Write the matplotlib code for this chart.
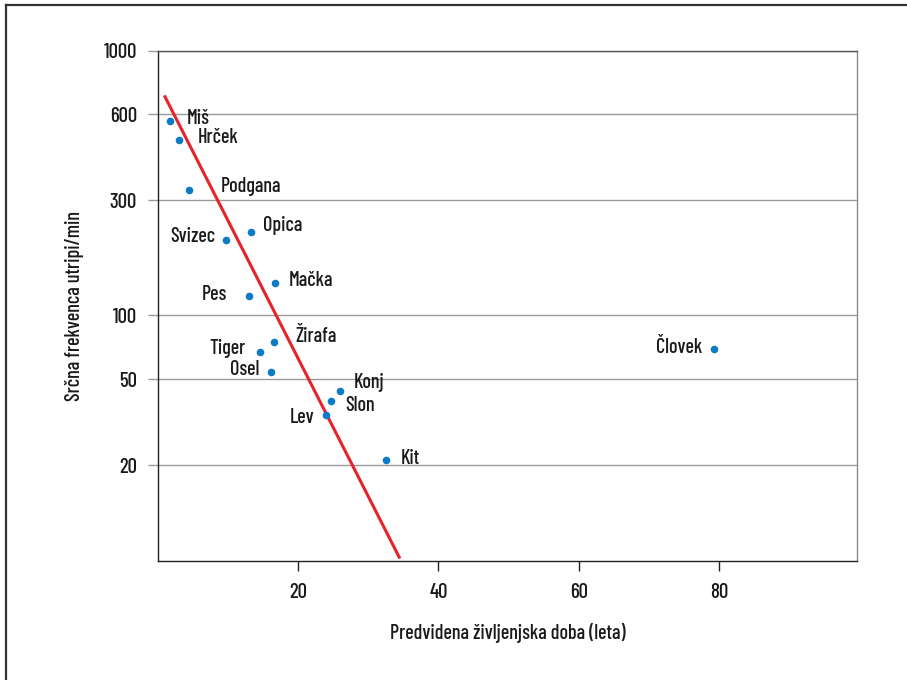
import numpy as np
import matplotlib
matplotlib.use("Agg")
import matplotlib.pyplot as plt
from matplotlib.lines import Line2D
from matplotlib.ticker import FixedLocator, FuncFormatter, NullLocator

plt.rcParams['font.family'] = ['Barlow Condensed', 'DejaVu Sans']
plt.rcParams['font.weight'] = 'medium'
plt.rcParams['axes.labelweight'] = 'medium'

# podatki
zivali = ['Miš', 'Hrček', 'Podgana', 'Svizec', 'Opica', 'Mačka', 'Pes', 'Žirafa',
          'Tiger', 'Osel', 'Konj', 'Slon', 'Lev', 'Kit', 'Človek']
doba = [1.7, 3.0, 4.4, 9.7, 13.2, 16.7, 13.0, 16.5, 14.5, 16.1, 26.0, 24.7, 23.9, 32.5, 79.3]
srcni_utrip = [567, 487, 324, 205, 221, 136, 120, 75, 67, 54, 44, 39.4, 34, 21.2, 69.4]

# regresijska premica (konca)
premica_x = [1.0, 34.4]
premica_y = [690, 7.5]

y_ticks = [20, 50, 100, 300, 600, 1000]
x_ticks = [20, 40, 60, 80]

# odmiki napisov od tock (pikseli) in poravnava
odmiki = [(17, 3, 'left'), (19, 2, 'left'), (32, 4, 'left'), (-11, 3, 'right'),
          (12, 7, 'left'), (14, 2, 'left'), (-22, 1, 'right'), (22, 5, 'left'),
          (-14, 4, 'right'), (-12, 2, 'right'), (13, 9, 'left'), (14, -4, 'left'),
          (-11, -2, 'right'), (15, 1, 'left'), (-12, 1, 'right')]

# os y: razmik oznak kot na izvirniku (odsekoma logaritemsko)
L = np.log10(y_ticks)
P = -np.array([465, 379, 315, 200, 114, 51], dtype=float)


def _pl(x, xs, ys):
    out = np.interp(x, xs, ys)
    k0 = (ys[1] - ys[0]) / (xs[1] - xs[0])
    k1 = (ys[-1] - ys[-2]) / (xs[-1] - xs[-2])
    out = np.where(x < xs[0], ys[0] + (x - xs[0]) * k0, out)
    out = np.where(x > xs[-1], ys[-1] + (x - xs[-1]) * k1, out)
    return out


def fwd(v):
    v = np.asarray(v, dtype=float)
    return _pl(np.log10(np.maximum(v, 1e-6)), L, P)


def inv(p):
    p = np.asarray(p, dtype=float)
    return 10 ** _pl(p, P, L)


fig = plt.figure(figsize=(9.07, 6.8), dpi=100)
ax = fig.add_axes([158 / 907, 1 - 561 / 680, 699 / 907, 510 / 680])

ax.set_yscale('function', functions=(fwd, inv))
ax.set_ylim(7.2, 1000)
ax.set_xlim(0, 99.7)

ax.yaxis.set_major_locator(FixedLocator(y_ticks))
ax.yaxis.set_major_formatter(FuncFormatter(lambda v, pos: '%d' % round(v)))
ax.yaxis.set_minor_locator(NullLocator())
ax.set_xticks(x_ticks)

ax.grid(axis='y', color='#9a9a9a', linewidth=1.0)
ax.set_axisbelow(True)

ax.plot(premica_x, premica_y, color='#e6222a', linewidth=2.2, zorder=3)
ax.scatter(doba, srcni_utrip, s=30, color='#0a7bc6', zorder=4, linewidths=0)

fs = 14.5
for ime, x, y, (dx, dy, ha) in zip(zivali, doba, srcni_utrip, odmiki):
    ax.annotate(ime, (x, y), xytext=(dx, dy), textcoords='offset pixels',
                ha=ha, va='center', fontsize=fs, color='#1a1a1a', zorder=5)

for s in ['left', 'bottom']:
    ax.spines[s].set_color('#222222')
ax.spines['top'].set_color('#555555')
ax.spines['right'].set_color('#8a8a8a')
for s in ax.spines.values():
    s.set_linewidth(1.0)

ax.tick_params(axis='y', length=7.2, width=1.0, color='#9a9a9a', labelsize=15,
               labelcolor='#1a1a1a', pad=8)
ax.tick_params(axis='x', length=7.2, width=1.0, color='#222222', labelsize=15,
               labelcolor='#1a1a1a', pad=9)

ax.set_xlabel('Predvidena življenjska doba (leta)', fontsize=fs, color='#1a1a1a', labelpad=15)
ax.set_ylabel('Srčna frekvenca utripi/min', fontsize=fs, color='#1a1a1a', labelpad=14)

# okvir slike (levo in zgoraj)
fig.add_artist(Line2D([6 / 907, 6 / 907], [0, 1 - 5 / 680], color='#333333', linewidth=1.6))
fig.add_artist(Line2D([6 / 907, 906 / 907], [1 - 5 / 680, 1 - 5 / 680], color='#333333', linewidth=1.6))

fig.savefig('out.png', dpi=100)
